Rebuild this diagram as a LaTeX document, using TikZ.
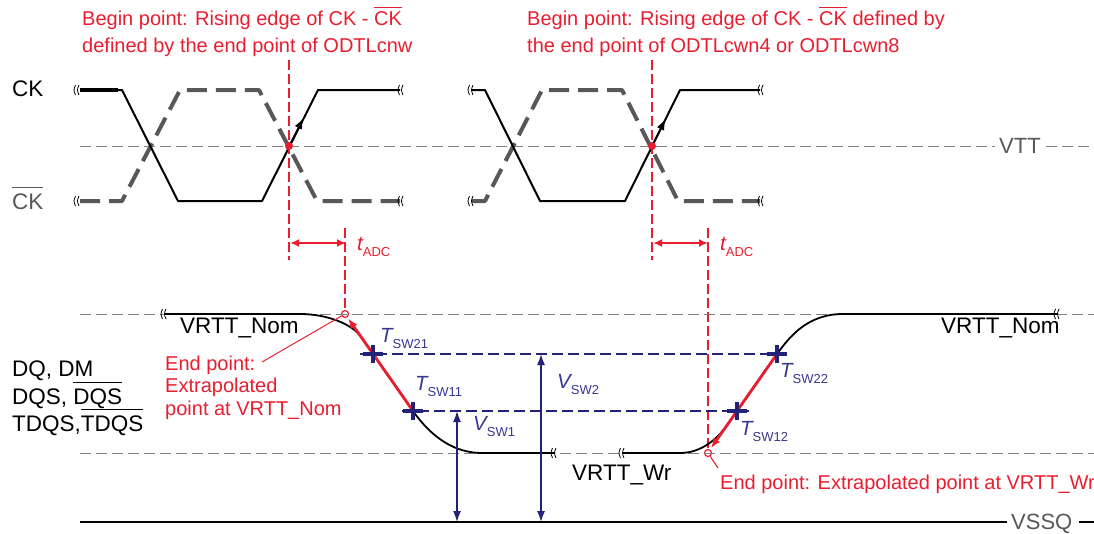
\documentclass[tikz,border=0pt]{standalone}
\usepackage{fontspec}
\setmainfont{Liberation Sans}
\usetikzlibrary{arrows.meta}
\definecolor{rd}{RGB}{232,30,48}
\definecolor{nv}{RGB}{34,34,120}
\definecolor{nvt}{RGB}{55,55,145}
\definecolor{gr}{RGB}{128,128,128}
\definecolor{dg}{RGB}{88,88,88}
\newcommand\ovr[2][5pt]{\begingroup\setbox0\hbox{#2}\rlap{\rule[\dimexpr\ht0+#1\relax]{\wd0}{1.3pt}}\box0\endgroup}
\newcommand\swlab[2]{{\fontsize{20.5}{20}\selectfont\itshape #1}{\fontsize{13}{13}\selectfont\raisebox{-6.5pt}{#2}}}
\begin{document}
\begin{tikzpicture}[x=1pt,y=-1pt,
  ckw/.style={line width=2pt,black,line join=round},
  ckd/.style={line width=4pt,dg,dash pattern=on 20pt off 9pt,line join=round},
  refl/.style={gr,line width=1pt,dash pattern=on 11pt off 5pt},
  bll/.style={nv,line width=1.2pt,dash pattern=on 11pt off 5pt},
  rdl/.style={rd,line width=1.2pt,dash pattern=on 10pt off 4pt},
  sig/.style={line width=1.8pt,black},
  rseg/.style={rd,line width=2.8pt,-{Latex[length=10pt,width=8pt]}},
  vdim/.style={nv,line width=1.5pt,{Latex[length=11pt,width=8pt]}-{Latex[length=11pt,width=8pt]}},
  adc/.style={rd,line width=2.5pt,{Latex[length=9pt,width=8pt]}-{Latex[length=9pt,width=8pt]}},
  lbl/.style={inner sep=0pt,anchor=base west,font=\fontsize{22.5}{27}\selectfont},
  rtxt/.style={inner sep=0pt,anchor=base west,text=rd,font=\fontsize{20}{24}\selectfont},
  btxt/.style={inner sep=0pt,anchor=base west,text=nvt},
  ecirc/.style={circle,draw=rd,line width=1.2pt,fill=white,minimum size=7pt,inner sep=0pt},
  rdot/.style={circle,fill=rd,minimum size=8pt,inner sep=0pt},
  brk/.pic={\draw[line width=0.8pt] (-2.5,-5) .. controls (-4.5,0) .. (-2.5,5);
            \draw[line width=0.8pt] (1,-5) .. controls (-1,0) .. (1,5);},
  crossmark/.pic={\draw[nv,line width=3.2pt] (-10,0) -- (10,0);
                  \draw[nv,line width=3.2pt] (0,-9) -- (0,9);}
]
\useasboundingbox (0,0) rectangle (1094,533);

% ---------- top texts ----------
\node[rtxt] (t1a) at (82,25) {Begin point: Rising edge of CK - \ovr[3pt]{CK}};
\node[rtxt] (t1b) at (82,52) {defined by the end point of ODTLcnw};
\node[rtxt] (t2a) at (527,25) {Begin point: Rising edge of CK - \ovr[3pt]{CK} defined by};
\node[rtxt] (t2b) at (527,52) {the end point of ODTLcwn4 or ODTLcwn8};

% ---------- VTT reference ----------
\coordinate (vttL) at (80,146);
\coordinate (vttM) at (995,146);
\coordinate (vttN) at (1046,146);
\coordinate (vttR) at (1094,146);
\draw[refl] (vttL) -- (vttM);
\draw[refl] (vttN) -- (vttR);
\node[lbl,text=dg,font=\fontsize{22}{26}\selectfont] (vtt) at (999,153) {VTT};

% ---------- clock waveforms ----------
\draw[ckd] (80,201) -- (122,201) -- (180,90) -- (259,90) -- (317,201) -- (400,201);
\draw[ckd] (472,201) -- (485,201) -- (542,90) -- (622,90) -- (678,201) -- (760,201);
\draw[line width=3.2pt] (80,90) -- (118,90);
\draw[ckw] (80,90) -- (122,90) -- (178,201) -- (262,201) -- (318,90) -- (400,90);
\draw[ckw] (472,90) -- (485,90) -- (540,201) -- (625,201) -- (680,90) -- (760,90);
\foreach \p in {(78,90),(78,201),(402,90),(402,201),(472,90),(472,201),(762,90),(762,201)}
  \pic at \p {brk};

% ---------- red vertical markers ----------
\coordinate (m1t) at (289,60);  \coordinate (m1b) at (289,260);
\coordinate (m2t) at (345,228);
\coordinate (m3t) at (652,60);  \coordinate (m3b) at (652,260);
\coordinate (m4t) at (708,228);
\node[ecirc] (e1) at (345,314) {};
\node[ecirc] (e2) at (708,453) {};
\draw[rdl] (m1t) -- (m1b);
\draw[rdl] (m2t) -- (e1.north);
\draw[rdl] (m3t) -- (m3b);
\draw[rdl] (m4t) -- (e2.north);

\coordinate (r1) at (289,146); \coordinate (r1a) at (303.5,118);
\coordinate (r2) at (652,146); \coordinate (r2a) at (665.5,119);
\draw[line width=1.5pt,-{Latex[length=11pt,width=8pt]}] (r1) -- (r1a);
\draw[line width=1.5pt,-{Latex[length=11pt,width=8pt]}] (r2) -- (r2a);
\node[rdot] (d1) at (r1) {};
\node[rdot] (d2) at (r2) {};

\node[lbl] (ck) at (12,96) {CK};
\node[lbl,text=dg] (ckb) at (12,209) {\ovr{CK}};

% ---------- tADC ----------
\coordinate (a1l) at (290,243); \coordinate (a1r) at (346,243);
\coordinate (a2l) at (653,243); \coordinate (a2r) at (708,243);
\draw[adc] (a1l) -- (a1r);
\draw[adc] (a2l) -- (a2r);
\node[btxt,text=rd] (tadc1) at (357,250) {\swlab{t}{ADC}};
\node[btxt,text=rd] (tadc2) at (720,250) {\swlab{t}{ADC}};

% ---------- DQ reference lines ----------
\draw[refl] (80,314) -- (1094,314);
\draw[refl] (80,453) -- (1094,453);
\draw[line width=2.5pt] (80,522) -- (1007,522);
\draw[line width=2.5pt] (1079,522) -- (1094,522);
\node[lbl,text=dg,font=\fontsize{22}{26}\selectfont] (vssq) at (1011,529) {VSSQ};

% blue levels
\coordinate (s21) at (373,354);
\coordinate (s11) at (413,411);
\coordinate (s12) at (737,411);
\coordinate (s22) at (777,354);
\draw[bll] (360,354) -- (787,354);
\draw[bll] (402,411) -- (752,411);

% signal
\draw[sig] (165,314) -- (300,314) .. controls (328,314) and (352,324.6) .. (360.4,336)
   -- (s11) .. controls (432,438) and (455,453) .. (482,453) -- (555,453);
\draw[sig] (623,453) -- (680,453) .. controls (702,453) and (718,438) .. (727.2,425)
   -- (s22) .. controls (790,336) and (808,314) .. (843,314) -- (1058,314);
\foreach \p in {(165,314),(555,453),(623,453),(1058,314)}
  \pic at \p {brk};

% red extrapolation segments
\coordinate (tip1) at (348.2,318.5);
\coordinate (tip2) at (711,448);
\draw[rseg] (s11) -- (tip1);
\draw[rseg] (s22) -- (tip2);

% crosses
\pic at (s21) {crossmark};
\pic at (s11) {crossmark};
\pic at (s12) {crossmark};
\pic at (s22) {crossmark};

% voltage arrows
\coordinate (v1t) at (457,411); \coordinate (v1b) at (457,522);
\coordinate (v2t) at (541,354); \coordinate (v2b) at (541,522);
\draw[vdim] (v1t) -- (v1b);
\draw[vdim] (v2t) -- (v2b);

% blue labels
\node[btxt] (l21) at (380,342) {\swlab{T}{SW21}};
\node[btxt] (l11) at (415,390) {\swlab{T}{SW11}};
\node[btxt] (lv1) at (473,430) {\swlab{V}{SW1}};
\node[btxt] (lv2) at (557,388) {\swlab{V}{SW2}};
\node[btxt] (l22) at (780,377) {\swlab{T}{SW22}};
\node[btxt] (l12) at (740,435) {\swlab{T}{SW12}};

% black labels
\node[lbl] (nom1) at (180,333) {VRTT\_Nom};
\node[lbl] (nom2) at (941,333) {VRTT\_Nom};
\node[lbl] (wr) at (572,480) {VRTT\_Wr};
\node[lbl] (dq1) at (12,376) {DQ, DM};
\node[lbl] (dq2) at (12,404) {DQS, \ovr{DQS}};
\node[lbl] (dq3) at (12,431) {TDQS,\ovr{TDQS}};

% red end point labels
\node[rtxt] (ep1) at (165,370) {End point:};
\node[rtxt] (ep2) at (165,392) {Extrapolated};
\node[rtxt] (ep3) at (165,415) {point at VRTT\_Nom};
\node[rtxt] (ep4) at (720,489) {End point: Extrapolated point at VRTT\_Wr};
\coordinate (ld1) at (262,362);
\coordinate (ld2) at (718,468);
\draw[rd,line width=1pt] (ld1) -- (e1);
\draw[rd,line width=1pt] (e2) -- (ld2);
\end{tikzpicture}
\end{document}
